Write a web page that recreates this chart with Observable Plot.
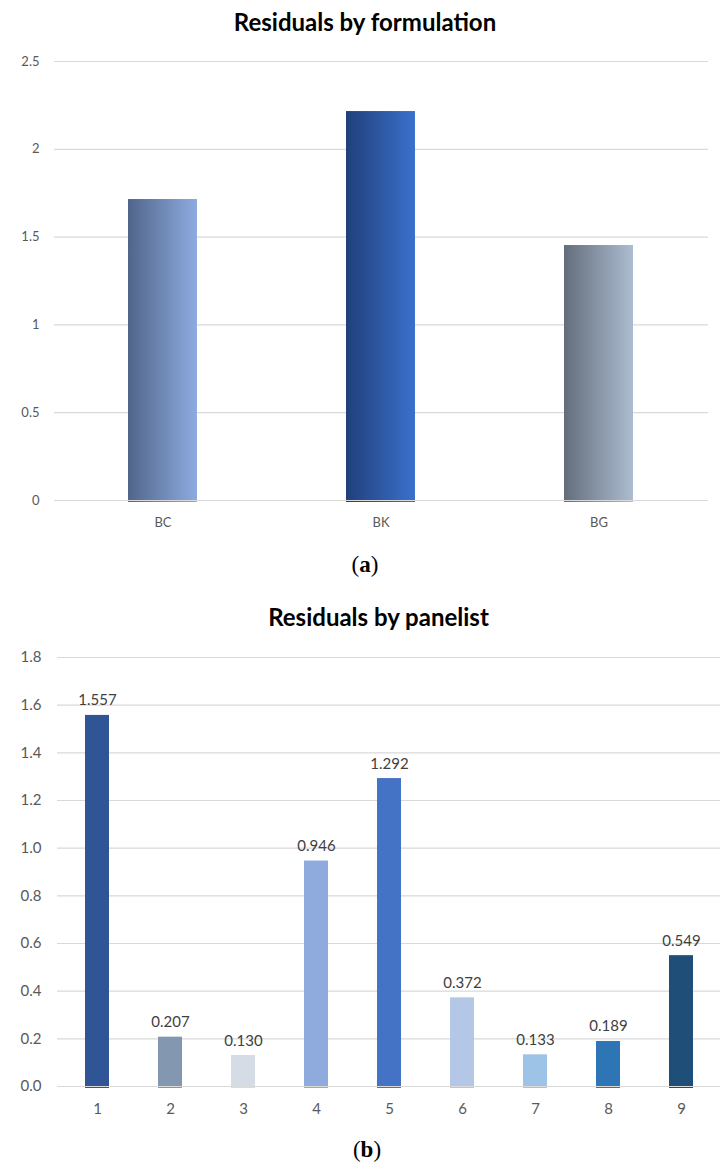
<!DOCTYPE html>
<html>
<head>
<meta charset="utf-8">
<script src="https://cdn.jsdelivr.net/npm/d3@7"></script>
<script src="https://cdn.jsdelivr.net/npm/@observablehq/plot@0.6"></script>
<style>
  body { margin: 0; background: #fff; }
  #page { position: relative; width: 721px; height: 1169px; font-family: Lato, "Open Sans", sans-serif; overflow: hidden; }
  .title { position: absolute; left: 0; width: 730px; text-align: center; font-weight: bold; font-size: 24px; color: #000; line-height: 28px; }
  .cap { position: absolute; left: 0; width: 730px; text-align: center; font-family: "Liberation Serif", "DejaVu Serif", serif; font-size: 23px; line-height: 28px; color: #000; }
  .cap b { font-weight: bold; }
  .chart { position: absolute; left: 0; }
  .chart svg { display: block; }
</style>
</head>
<body>
<div id="page">
  <div class="title" style="top:8px">Residuals by formulation</div>
  <div class="chart" id="chartA" style="top:40px"></div>
  <div class="cap" style="top:551px">(<b>a</b>)</div>
  <div class="title" style="top:603px; width:757px">Residuals by panelist</div>
  <div class="chart" id="chartB" style="top:639px"></div>
  <div class="cap" style="top:1136px; width:734px">(<b>b</b>)</div>
</div>
<script>
// Residuals by formulation
const formulations = ["BC", "BK", "BG"];
const formulationResiduals = [1.714, 2.215, 1.452];
// left / right colours of each formulation bar's horizontal gradient
const formulationGradientLeft = ["#50658a", "#213f7b", "#636e7c"];
const formulationGradientRight = ["#8eabe0", "#3a71cc", "#adbcd1"];
const formulationTicks = [0, 0.5, 1, 1.5, 2, 2.5];

// Residuals by panelist
const panelists = ["1", "2", "3", "4", "5", "6", "7", "8", "9"];
const panelistResiduals = [1.557, 0.207, 0.130, 0.946, 1.292, 0.372, 0.133, 0.189, 0.549];
const panelistColors = ["#2f5597", "#8497b0", "#d6dce5", "#8faadc", "#4472c4", "#b4c7e7", "#9dc3e6", "#2e75b6", "#1f4e79"];
const panelistTicks = [0, 0.2, 0.4, 0.6, 0.8, 1.0, 1.2, 1.4, 1.6, 1.8];

const gridColor = "#d9d9d9";
const tickColor = "#595959";

// ---- chart (a) ----
const formulationData = formulations.map((name, i) => ({
  name, value: formulationResiduals[i], fill: `url(#grad-${name})`
}));

const chartA = Plot.plot({
  width: 721,
  height: 495,
  marginTop: 21,
  marginBottom: 35,
  marginLeft: 54,
  marginRight: 13,
  style: { fontFamily: "Lato, 'Open Sans', sans-serif", fontSize: "13px", background: "transparent" },
  x: { domain: formulations, paddingInner: 0.683, paddingOuter: 0.3415, label: null },
  y: { domain: [0, 2.5], label: null },
  color: { type: "identity" },
  marks: [
    Plot.ruleY(formulationTicks.filter(d => d > 0), { stroke: gridColor, strokeWidth: 1.2 }),
    Plot.barY(formulationData, { x: "name", y: "value", fill: "fill", insetBottom: -2 }),
    Plot.ruleY([0], { stroke: gridColor, strokeWidth: 1.2 }),
    Plot.axisY({ ticks: formulationTicks, tickFormat: d => String(d), tickSize: 0, tickPadding: 15, color: tickColor, fontSize: 13 }),
    Plot.axisX({ tickSize: 0, tickPadding: 17, color: tickColor, fontSize: 13 })
  ]
});

const defs = d3.select(chartA).insert("defs", ":first-child");
formulations.forEach((name, i) => {
  const g = defs.append("linearGradient")
    .attr("id", `grad-${name}`)
    .attr("x1", 0).attr("x2", 1).attr("y1", 0).attr("y2", 0);
  g.append("stop").attr("offset", 0).attr("stop-color", formulationGradientLeft[i]);
  g.append("stop").attr("offset", 1).attr("stop-color", formulationGradientRight[i]);
});
document.getElementById("chartA").appendChild(chartA);

// ---- chart (b) ----
const panelistData = panelists.map((name, i) => ({
  name, value: panelistResiduals[i], fill: panelistColors[i]
}));

const chartB = Plot.plot({
  width: 721,
  height: 487,
  marginTop: 18,
  marginBottom: 40,
  marginLeft: 57,
  marginRight: 1,
  style: { fontFamily: "Lato, 'Open Sans', sans-serif", fontSize: "15px", background: "transparent" },
  x: { domain: panelists, paddingInner: 0.675, paddingOuter: 0.3375, label: null },
  y: { domain: [0, 1.8], label: null },
  color: { type: "identity" },
  marks: [
    Plot.ruleY(panelistTicks.filter(d => d > 0), { stroke: gridColor, strokeWidth: 1.2 }),
    Plot.barY(panelistData, { x: "name", y: "value", fill: "fill", insetBottom: -2 }),
    Plot.ruleY([0], { stroke: gridColor, strokeWidth: 1.2 }),
    Plot.text(panelistData, {
      x: "name", y: "value", text: d => d.value.toFixed(3),
      lineAnchor: "bottom", dy: -10, fill: "#404040", fontSize: 15
    }),
    Plot.axisY({ ticks: panelistTicks, tickFormat: d3.format(".1f"), tickSize: 0, tickPadding: 16, color: tickColor, fontSize: 15 }),
    Plot.axisX({ tickSize: 0, tickPadding: 17, color: tickColor, fontSize: 15 })
  ]
});
document.getElementById("chartB").appendChild(chartB);
</script>
</body>
</html>
